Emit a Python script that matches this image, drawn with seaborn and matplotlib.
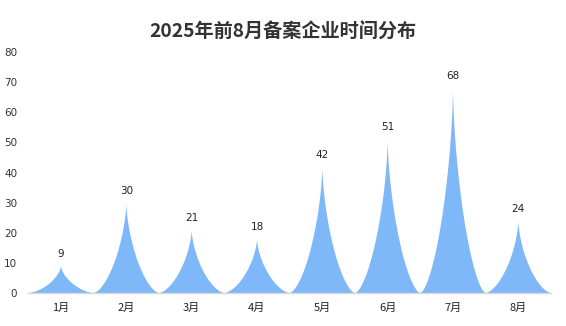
import matplotlib
matplotlib.use("Agg")
import matplotlib.pyplot as plt
import seaborn as sns
import pandas as pd
import numpy as np

months = ["1月", "2月", "3月", "4月", "5月", "6月", "7月", "8月"]
counts = [9, 30, 21, 18, 42, 51, 68, 24]
title = "2025年前8月备案企业时间分布"
yticks = [0, 10, 20, 30, 40, 50, 60, 70, 80]

sns.set_theme(style="white")
plt.rcParams["font.family"] = ["Noto Sans CJK SC", "DejaVu Sans"]

df = pd.DataFrame({"month": months, "count": counts})

fig = plt.figure(figsize=(5.66, 3.26), dpi=100)
ax = fig.add_axes([0.05, 0.1012, 0.9235, 0.7393])

sns.barplot(data=df, x="month", y="count", width=1.0, ax=ax, color="#7EB8F8")

fill = "#7EB8F8"
p = 1.6
bars = list(ax.patches)
for bar in bars:
    x0 = bar.get_x()
    w = bar.get_width()
    h = bar.get_height()
    c = x0 + 0.5 * w
    frac = np.linspace(0, 1, 400)
    # concave spike: superellipse-shaped flanks, flat at base, vertical at tip
    half = 0.5 * w * (1 - (1 - (1 - frac) ** p) ** (1 / p))
    ax.fill_betweenx(frac * h, c - half, c + half, facecolor=fill, edgecolor="none",
                     linewidth=0, zorder=2)
    ax.annotate(f"{int(h)}", (c, h), xytext=(0, 5), textcoords="offset points",
                ha="center", va="bottom", fontsize=7.5, color="#222222",
                family=["DejaVu Sans"])
    bar.remove()

ax.set_ylim(0, 80)
ax.set_xlim(-0.5, len(months) - 0.5)
ax.set_yticks(yticks)
ax.set_yticklabels([str(t) for t in yticks], fontsize=7.5, color="#333333", family=["DejaVu Sans"])
ax.tick_params(axis="x", labelsize=8, colors="#222222", length=0, pad=7)
ax.tick_params(axis="y", length=0, pad=8)
ax.set_xlabel("")
ax.set_ylabel("")
for s in ["top", "right", "left"]:
    ax.spines[s].set_visible(False)
ax.spines["bottom"].set_color("#d9d9d9")
ax.spines["bottom"].set_linewidth(1.0)
ax.spines["bottom"].set_zorder(3)
ax.grid(False)

fig.text(0.5, 0.902, title, ha="center", va="center", fontsize=13.8, fontweight="bold",
         color="#333333")

fig.savefig("out.png", dpi=100, facecolor="white")
